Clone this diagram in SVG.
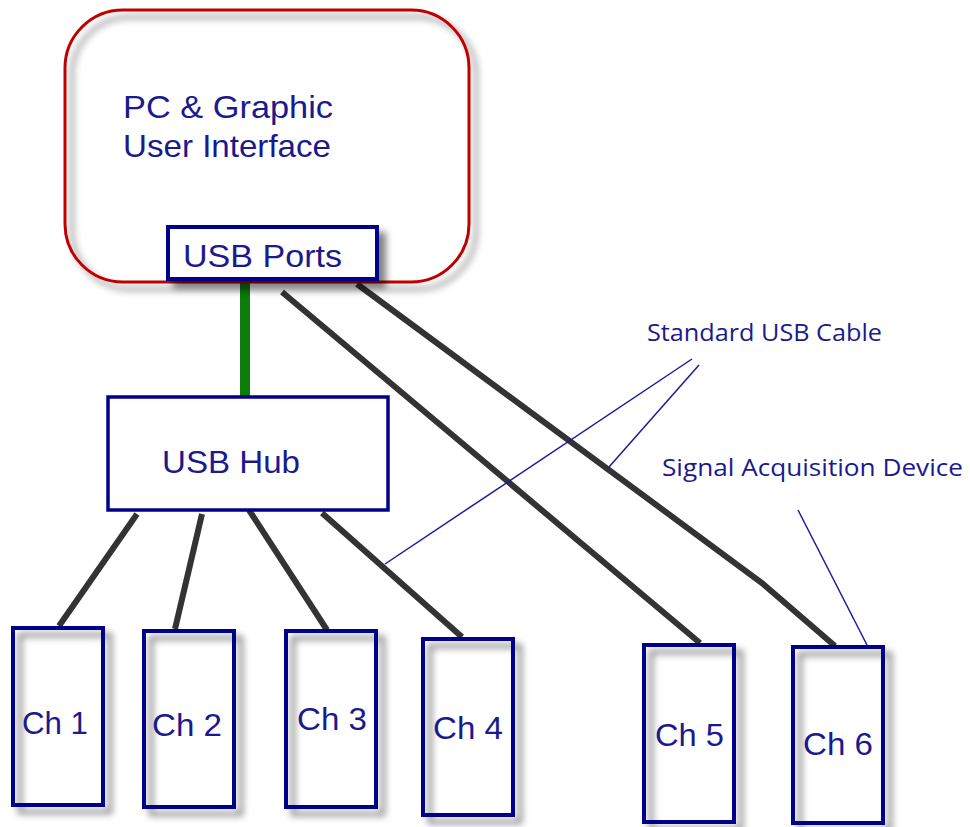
<svg xmlns="http://www.w3.org/2000/svg" width="970" height="827" viewBox="0 0 970 827">
  <defs>
    <filter id="sh" x="-20%" y="-20%" width="150%" height="150%">
      <feGaussianBlur in="SourceAlpha" stdDeviation="3.5"/>
      <feOffset dx="7" dy="7" result="b"/>
      <feComponentTransfer result="s"><feFuncA type="linear" slope="0.5"/></feComponentTransfer>
      <feMerge><feMergeNode in="s"/><feMergeNode in="SourceGraphic"/></feMerge>
    </filter>
  </defs>
  <style>
    .box { fill: none; stroke: #00008b; stroke-width: 4; }
    .lbl { font-family: "Liberation Sans", Arial, sans-serif; fill: #1a1a8e; }
    .note { font-family: "Open Sans", "DejaVu Sans", sans-serif; fill: #1a1a8e; font-size: 23px; }
    .cable { stroke: #333; stroke-width: 6; fill: none; }
    .leader { stroke: #1a1a9a; stroke-width: 1.5; fill: none; }
  </style>
  <rect width="970" height="827" fill="#fff"/>

  <g id="connectors">
    <line x1="245" y1="282" x2="245" y2="396" stroke="#0a7d0a" stroke-width="10"/>
    <line class="cable" x1="282" y1="292" x2="700" y2="643"/>
    <polyline class="cable" points="357,284 762,583 835,646"/>
    <line class="cable" x1="137" y1="514" x2="59" y2="626"/>
    <line class="cable" x1="202" y1="514" x2="175" y2="629"/>
    <line class="cable" x1="249" y1="510" x2="327" y2="630"/>
    <line class="cable" x1="322" y1="513" x2="462" y2="637"/>
    <line class="leader" x1="692" y1="359" x2="385" y2="564"/>
    <line class="leader" x1="699" y1="365" x2="609" y2="467"/>
    <line class="leader" x1="798" y1="510" x2="867" y2="645"/>
  </g>

  <g id="pc">
    <rect x="65" y="10" width="404" height="272" rx="58" ry="58" fill="none" stroke="#c00000" stroke-width="3" filter="url(#sh)"/>
    <text class="lbl" x="123" y="118" font-size="32" textLength="210" lengthAdjust="spacingAndGlyphs">PC &amp; Graphic</text>
    <text class="lbl" x="123" y="157" font-size="32" textLength="208" lengthAdjust="spacingAndGlyphs">User Interface</text>
  </g>

  <g id="usbports">
    <rect x="168" y="227" width="209" height="52" fill="#fff" stroke="#00008b" stroke-width="4" filter="url(#sh)"/>
    <text class="lbl" x="183" y="267" font-size="31" textLength="159" lengthAdjust="spacingAndGlyphs">USB Ports</text>
  </g>

  <g id="usbhub">
    <rect x="108" y="397" width="280" height="113" fill="#fff" stroke="#00008b" stroke-width="3.5"/>
    <text class="lbl" x="162" y="473" font-size="32" textLength="138" lengthAdjust="spacingAndGlyphs">USB Hub</text>
  </g>

  <g id="ch1">
    <rect class="box" x="13" y="628" width="90" height="177" filter="url(#sh)"/>
    <text class="lbl" x="22" y="734" font-size="32" textLength="66" lengthAdjust="spacingAndGlyphs">Ch 1</text>
  </g>
  <g id="ch2">
    <rect class="box" x="144" y="631" width="90" height="176" filter="url(#sh)"/>
    <text class="lbl" x="152" y="736" font-size="32" textLength="70" lengthAdjust="spacingAndGlyphs">Ch 2</text>
  </g>
  <g id="ch3">
    <rect class="box" x="286" y="631" width="90" height="176" filter="url(#sh)"/>
    <text class="lbl" x="297" y="730" font-size="32" textLength="70" lengthAdjust="spacingAndGlyphs">Ch 3</text>
  </g>
  <g id="ch4">
    <rect class="box" x="423" y="639" width="90" height="176" filter="url(#sh)"/>
    <text class="lbl" x="433" y="739" font-size="32" textLength="70" lengthAdjust="spacingAndGlyphs">Ch 4</text>
  </g>
  <g id="ch5">
    <rect class="box" x="644" y="645" width="90" height="177" filter="url(#sh)"/>
    <text class="lbl" x="655" y="746" font-size="32" textLength="69" lengthAdjust="spacingAndGlyphs">Ch 5</text>
  </g>
  <g id="ch6">
    <rect class="box" x="793" y="647" width="90" height="176" filter="url(#sh)"/>
    <text class="lbl" x="803" y="755" font-size="32" textLength="70" lengthAdjust="spacingAndGlyphs">Ch 6</text>
  </g>

  <g id="label-cable">
    <text class="note" x="647" y="341" textLength="235" lengthAdjust="spacingAndGlyphs">Standard USB Cable</text>
  </g>
  <g id="label-device">
    <text class="note" x="662" y="476" textLength="301" lengthAdjust="spacingAndGlyphs">Signal Acquisition Device</text>
  </g>
</svg>
